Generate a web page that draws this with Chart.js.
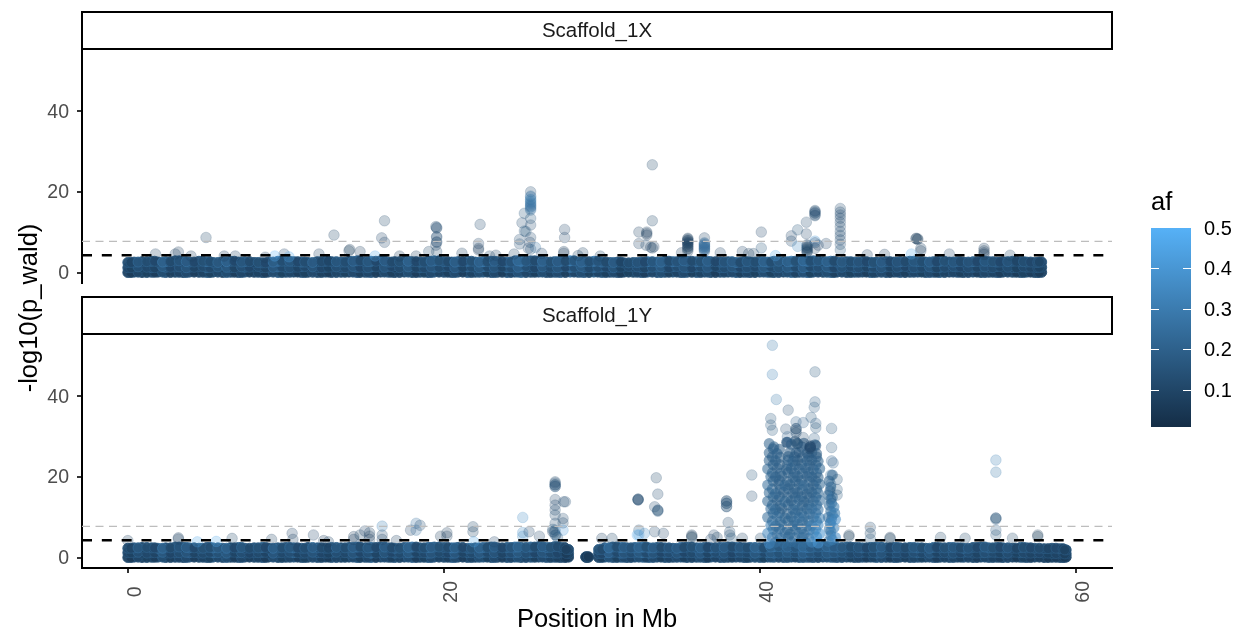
<!DOCTYPE html>
<html>
<head>
<meta charset="utf-8">
<style>
html, body { margin: 0; padding: 0; background: #fff; overflow: hidden; }
canvas { position: absolute; left: 0; top: 0; }
</style>
<script src="https://cdn.jsdelivr.net/npm/chart.js@4/dist/chart.umd.min.js"></script>
</head>
<body>
<canvas id="panelX" width="1244" height="630"></canvas>
<canvas id="panelY" width="1244" height="630"></canvas>
<canvas id="afBar" width="1244" height="630"></canvas>
<script>
const facets = ["Scaffold_1X", "Scaffold_1Y"];
const xLimits = [-2.9, 62.3];
const yLimits = [-2.6, 55.5];
const xTicks = [0, 20, 40, 60];
const xTickLabels = ["0 ", "20", "40", "60"];
const yTicks = [0, 20, 40];
const afTicks = [0.1, 0.2, 0.3, 0.4, 0.5];
const thresholds = [7.75, 4.3];

// floor of the dense band, shared by both panels
const bandFloor = [0,.1,0,.05,.1,0,.05,0,.1,.05,0,.1,0,.05,0,.1,.05,0,.1,0,.05,.1,0,.05,0,.1,0,.05,.1,0,.05,0,.1,.05,0,.1,0,.05,0,.1,.05,0,.1,0,.05,.1,0,.05,0,.1,0,.05,.1,0,.05,0,.1,.05,0,.1,0,.05,0,.1,.05,0,.1,0,.05,.1,0,.05,0,.1,0,.05,.1,0,.05,0,.1,.05,0,.1,0,.05,0,.1,.05,0,.1,0,.05,.1,0,.05,0,.1,0,.05,.1,0,.05,0,.1,.05,0,.1,0,.05,0,.1,.05,0,.1,0,.05,0,.1,0,.05,0,.1];

// dense band, chromosome X, one column per x
const band1X = [0,.4,.9,1.5,1.9,2.4,3,3.5,3.9,4.5,5,5.4,6,6.5,7,7.4,8,8.5,8.9,9.5,10,10.5,11,11.4,12,12.5,12.9,13.5,14,14.5,15,15.4,16,16.5,16.9,17.5,18,18.5,19,19.4,20,20.5,20.9,21.5,22,22.5,23,23.4,24,24.5,24.9,25.5,26,26.5,27,27.4,28,28.5,28.9,29.5,30,30.5,31,31.4,32,32.5,32.9,33.5,34,34.5,35,35.4,36,36.5,36.9,37.5,38,38.5,39,39.4,40,40.5,40.9,41.5,42,42.5,43,43.4,44,44.5,44.9,45.5,46,46.5,47,47.4,48,48.5,48.9,49.5,50,50.5,51,51.4,52,52.5,52.9,53.5,54,54.5,55,55.4,56,56.5,56.9,57.4,57.85];
const band1XB = [.2,.65,1.2,1.7,2.2,2.7,3.25,3.7,4.2,4.75,5.2,5.7,6.25,6.75,7.2,7.7,8.25,8.7,9.2,9.75,10.25,10.75,11.2,11.7,12.25,12.7,13.2,13.75,14.25,14.7,15.2,15.7,16.25,16.7,17.2,17.75,18.25,18.75,19.2,19.7,20.25,20.7,21.2,21.75,22.25,22.75,23.2,23.7,24.25,24.7,25.2,25.75,26.25,26.75,27.2,27.7,28.25,28.7,29.2,29.75,30.25,30.75,31.2,31.7,32.25,32.7,33.2,33.75,34.25,34.75,35.2,35.7,36.25,36.7,37.2,37.75,38.25,38.75,39.2,39.7,40.25,40.7,41.2,41.75,42.25,42.75,43.2,43.7,44.25,44.7,45.2,45.75,46.25,46.75,47.2,47.7,48.25,48.7,49.2,49.75,50.25,50.75,51.2,51.7,52.25,52.7,53.2,53.75,54.25,54.75,55.2,55.7,56.25,56.7,57.15,57.6,57.7];
const band1Top = [2.5,2.6,2.7,2.8,2.6,2.7,2.9,2.7,2.6,2.8,2.7,2.5,2.7,2.8,2.6,2.7,2.5,2.4,2.6,2.8,2.8,2.7,2.6,2.5,2.7,2.8,2.7,2.6,2.8,2.9,2.7,2.8,2.9,2.6,2.7,2.8,2.7,2.6,2.8,2.9,2.7,2.6,2.7,2.8,2.6,2.7,2.8,2.7,2.6,2.9,2.8,2.9,2.8,2.6,2.7,2.8,2.9,2.6,2.7,2.8,2.6,2.5,2.6,2.4,2.5,2.6,2.7,2.6,2.8,2.7,2.9,2.8,2.7,2.8,2.7,2.6,2.7,2.5,2.7,2.6,2.7,2.6,2.8,2.7,2.8,2.9,2.8,2.9,2.7,2.8,2.6,2.7,2.6,2.7,2.5,2.6,2.7,2.6,2.7,2.8,2.7,2.6,2.7,2.8,2.6,2.7,2.6,2.7,2.8,2.7,2.6,2.7,2.8,2.7,2.6,2.5,2.6];
const band1Mid = [1.2,1.4,1.3,1.2,1.5,1.3,1.4,1.2,1.3,1.5,1.2,1.4,1.3,1.2,1.4,1.3,1.5,1.2,1.3,1.4,1.2,1.3,1.5,1.4,1.2,1.3,1.4,1.2,1.5,1.3,1.2,1.4,1.3,1.5,1.2,1.4,1.3,1.2,1.4,1.3,1.5,1.2,1.3,1.4,1.2,1.5,1.3,1.4,1.2,1.3,1.5,1.2,1.4,1.3,1.2,1.4,1.3,1.5,1.2,1.3,1.4,1.2,1.3,1.5,1.4,1.2,1.3,1.4,1.2,1.5,1.3,1.2,1.4,1.3,1.5,1.2,1.4,1.3,1.2,1.4,1.3,1.5,1.2,1.3,1.4,1.2,1.5,1.3,1.4,1.2,1.3,1.5,1.2,1.4,1.3,1.2,1.4,1.3,1.5,1.2,1.3,1.4,1.2,1.3,1.5,1.4,1.2,1.3,1.4,1.2,1.5,1.3,1.2,1.4,1.3,1.2,1.3];
const band1Af = [.12,.14,.1,.16,.12,.18,.13,.1,.15,.12,.2,.13,.1,.14,.12,.17,.1,.13,.15,.22,.14,.12,.18,.1,.13,.16,.12,.14,.1,.18,.13,.2,.12,.15,.1,.14,.12,.17,.13,.2,.16,.12,.15,.22,.14,.24,.16,.12,.2,.15,.26,.14,.18,.12,.16,.22,.28,.14,.18,.25,.2,.14,.12,.1,.13,.16,.22,.18,.14,.2,.13,.17,.2,.14,.12,.16,.13,.2,.15,.12,.17,.22,.14,.12,.26,.15,.24,.18,.13,.2,.15,.12,.17,.14,.2,.12,.15,.1,.18,.13,.16,.12,.14,.2,.12,.15,.1,.17,.13,.12,.16,.1,.14,.12,.13,.1,.11];
const band1AfB = [.1,.16,.13,.11,.2,.12,.15,.18,.11,.14,.13,.17,.2,.11,.16,.12,.14,.11,.19,.13,.16,.11,.13,.18,.12,.1,.16,.13,.18,.12,.16,.11,.18,.12,.14,.2,.11,.13,.18,.14,.12,.19,.11,.14,.2,.13,.18,.11,.15,.22,.16,.12,.2,.14,.18,.12,.16,.2,.13,.15,.12,.18,.1,.13,.15,.11,.16,.2,.12,.15,.18,.12,.14,.19,.11,.15,.18,.12,.16,.13,.2,.13,.17,.2,.14,.22,.13,.16,.2,.12,.17,.13,.15,.11,.14,.18,.11,.15,.12,.16,.13,.18,.11,.14,.16,.12,.15,.11,.16,.14,.11,.15,.1,.13,.11,.12,.1];

// dense band, chromosome Y, split by the gap near 28 Mb
const band2X = [0,.4,.9,1.5,1.9,2.4,3,3.5,3.9,4.5,5,5.4,6,6.5,7,7.4,8,8.5,8.9,9.5,10,10.5,11,11.4,12,12.5,12.9,13.5,14,14.5,15,15.4,16,16.5,16.9,17.5,18,18.5,19,19.4,20,20.5,20.9,21.5,22,22.5,23,23.4,24,24.5,24.9,25.5,26,26.5,27,27.4,27.9,29,29.8,30.2,30.7,31.2,31.6,32.1,32.6,33,33.5,34,34.5,35,35.4,36,36.5,36.9,37.5,38,38.5,39,39.4,40,40.5,40.9,41.5,42,42.5,43,43.4,44,44.5,44.9,45.5,46,46.5,47,47.4,48,48.5,48.9,49.5,50,50.5,51,51.4,52,52.5,52.9,53.5,54,54.5,55,55.4,56,56.5,56.9,57.4,58,58.5,59,59.4];
const band2XB = [.2,.65,1.2,1.7,2.2,2.7,3.25,3.7,4.2,4.75,5.2,5.7,6.25,6.75,7.2,7.7,8.25,8.7,9.2,9.75,10.25,10.75,11.2,11.7,12.25,12.7,13.2,13.75,14.25,14.7,15.2,15.7,16.25,16.7,17.2,17.75,18.25,18.75,19.2,19.7,20.25,20.7,21.2,21.75,22.25,22.75,23.2,23.7,24.25,24.7,25.2,25.75,26.25,26.75,27.2,27.65,27.75,29.15,30,30.45,30.95,31.4,31.85,32.35,32.8,33.25,33.75,34.25,34.75,35.2,35.7,36.25,36.7,37.2,37.75,38.25,38.75,39.2,39.7,40.25,40.7,41.2,41.75,42.25,42.75,43.2,43.7,44.25,44.7,45.2,45.75,46.25,46.75,47.2,47.7,48.25,48.7,49.2,49.75,50.25,50.75,51.2,51.7,52.25,52.7,53.2,53.75,54.25,54.75,55.2,55.7,56.25,56.7,57.15,57.7,58.25,58.75,59.2,59.3];
const band2Top = [2.3,2.4,2.5,2.4,2.3,2.4,2.6,2.5,2.4,2.3,2.5,2.4,2.3,2.4,2.5,2.3,2.4,2.5,2.3,2.4,2.5,2.4,2.3,2.5,2.4,2.3,2.5,2.4,2.5,2.6,2.4,2.5,2.6,2.4,2.3,2.5,2.6,2.4,2.5,2.6,2.5,2.4,2.5,2.3,2.4,2.5,2.6,2.4,2.5,2.6,2.5,2.6,2.7,2.5,2.7,2.5,2,.2,2,2.4,2.6,2.5,2.4,2.5,2.6,2.4,2.5,2.4,2.3,2.5,2.6,2.4,2.5,2.4,2.5,2.6,2.5,2.4,2.5,2.4,2.6,2.7,2.6,2.5,2.6,2.5,2.6,2.7,2.6,2.5,2.6,2.5,2.4,2.5,2.6,2.4,2.5,2.4,2.5,2.4,2.3,2.5,2.4,2.5,2.4,2.3,2.5,2.6,2.4,2.5,2.4,2.3,2.5,2.4,2.3,2.2,2.3,2.2,1.9];
const band2Mid = [1.2,1.3,1.1,1.2,1.3,1.1,1.2,1.3,1.2,1.1,1.3,1.2,1.1,1.3,1.2,1.1,1.2,1.3,1.1,1.2,1.3,1.2,1.1,1.3,1.2,1.1,1.3,1.2,1.1,1.3,1.2,1.1,1.2,1.3,1.1,1.2,1.3,1.2,1.1,1.3,1.2,1.1,1.3,1.2,1.1,1.3,1.2,1.1,1.2,1.3,1.1,1.2,1.3,1.2,1.1,1.3,1,.1,1,1.2,1.3,1.1,1.2,1.3,1.2,1.1,1.3,1.2,1.1,1.3,1.2,1.1,1.2,1.3,1.1,1.2,1.3,1.2,1.1,1.3,1.2,1.1,1.3,1.2,1.1,1.3,1.2,1.1,1.2,1.3,1.1,1.2,1.3,1.2,1.1,1.3,1.2,1.1,1.3,1.2,1.1,1.3,1.2,1.1,1.2,1.3,1.1,1.2,1.3,1.2,1.1,1.3,1.2,1.1,1.2,1.1,1,1.1,.9];
const band2Af = [.12,.15,.1,.13,.17,.12,.14,.1,.18,.13,.12,.2,.14,.1,.16,.12,.13,.18,.1,.14,.12,.2,.13,.11,.15,.12,.17,.1,.14,.2,.13,.24,.14,.12,.18,.15,.22,.13,.2,.16,.14,.22,.13,.16,.12,.2,.14,.1,.17,.22,.13,.2,.15,.18,.14,.12,.1,.07,.14,.2,.16,.22,.13,.18,.24,.2,.14,.17,.12,.2,.14,.16,.13,.2,.15,.12,.18,.14,.16,.2,.2,.22,.18,.16,.2,.22,.18,.16,.2,.18,.16,.12,.18,.14,.2,.13,.16,.12,.14,.18,.12,.16,.13,.15,.11,.17,.13,.14,.16,.12,.14,.11,.15,.12,.13,.11,.1,.12,.1];
const band2AfB = [.1,.16,.13,.11,.2,.12,.15,.18,.11,.14,.13,.17,.2,.11,.16,.12,.14,.11,.19,.13,.16,.11,.13,.18,.12,.1,.16,.13,.18,.12,.16,.11,.18,.12,.14,.2,.11,.13,.18,.14,.12,.19,.11,.14,.2,.13,.18,.11,.15,.2,.16,.12,.18,.14,.12,.1,.08,.06,.12,.22,.13,.18,.15,.2,.14,.18,.12,.15,.18,.12,.14,.19,.11,.15,.18,.12,.16,.13,.2,.13,.2,.17,.2,.16,.22,.18,.16,.2,.18,.17,.13,.15,.11,.14,.18,.11,.15,.12,.16,.13,.18,.11,.14,.16,.12,.15,.11,.16,.14,.11,.15,.1,.13,.11,.12,.1,.11,.1,.09];

// separate points above the band, chromosome X
const outlier1X = [1.75,3.2,3,4,4.95,6.1,6.8,8.7,9.3,9.9,10.2,12.1,13.05,14,14.05,14.7,15.65,16.07,16.25,16.25,17.2,18.25,19.5,19.55,19.55,19.55,19.5,19.55,19.05,21.15,22.3,22.2,22.2,22.2,22.9,23.3,24.45,24.8,24.8,24.95,25.1,25.1,25.2,25.5,25.5,25.5,25.5,25.5,25.5,25.5,25.5,25.5,25.5,25.45,25.5,25.35,25.8,26.2,27.65,27.65,27.6,27.6,28.8,28.5,29.9,33.2,33.2,32.35,32.35,32.85,32.85,32.85,32.8,33.1,33.3,33.2,35.45,35.45,35.45,35.45,35.45,35.45,35.45,35.05,36.5,36.5,36.5,36.5,36.5,36.5,36.5,37.5,38.9,39.3,39.6,40.1,40.1,41,42,42,42.4,42.95,42.95,43.5,43.5,43.5,43.5,43,43,43,43,42.4,43.5,43.5,43.7,44.2,45.1,45.1,45.1,45.1,45.1,45.1,45.1,45.1,45.1,45.1,45.1,46.8,47.9,49.9,49.9,50,50.2,50.2,49.6,52,54.2,54.2,54.2,54.2,55.85];
const outlier1Y = [4.6,5.1,4.6,4.1,8.7,4.1,4.1,3.8,4.1,4.6,3.9,4.6,9.3,5.4,5.7,5.2,4.1,8.6,7.5,12.85,4.1,4.1,11.4,11,8.9,7.6,6.8,5.2,5.2,4.8,11.95,7.2,6,5.6,4.1,4.3,4.6,8.2,7.1,12.35,14.7,10.3,10.2,20.05,18.8,18,17.3,16.7,16.2,15.5,13.45,11.8,8.7,7.5,5.8,6,6.25,4.75,10.7,8.7,5.2,4.8,4.9,4.2,4.1,26.75,12.85,10.05,7.2,10.05,9.7,9.3,6.8,6.3,6.4,6.1,8.5,8,7.6,7.2,6.6,6,5.3,4.9,8.6,7.2,6.8,6.4,6,5.6,5.2,4.9,5.2,4.7,4.7,10.05,6.1,4.2,9.1,7.8,10.6,12.5,9.6,15.4,14.9,14.3,7.8,6.9,6.3,5.8,5.2,6.5,6,7.4,6.8,7.2,15.9,15,14.3,13.5,12.5,11.4,10.2,9.2,8.1,7,5.6,4.4,4.5,8.4,8.5,8.2,6,5.4,4.6,4.6,6,5.4,4.9,4.5,4.3];
const outlier1Af = [.03,.02,.03,.03,.04,.02,.03,.02,.45,.05,.4,.03,.04,.01,.01,.02,.4,.05,.05,.04,.02,.02,.06,.06,.06,.05,.05,.04,.04,.03,.06,.05,.02,.02,.04,.03,.04,.08,.08,.08,.1,.1,.1,.06,.2,.22,.24,.2,.2,.18,.1,.08,.06,.05,.1,.05,.2,.05,.05,.05,.02,.02,.03,.04,.04,.04,.04,.03,.05,.02,.02,.02,.04,.02,.02,.03,.01,.01,.01,.01,.01,.01,.01,.03,.03,.12,.14,.16,.14,.14,.12,.05,.05,.02,.04,.05,.1,.4,.05,.06,.1,.06,.05,.06,.06,.06,.35,.05,.05,.03,.03,.3,.03,.08,.05,.05,.06,.06,.06,.06,.06,.06,.06,.06,.06,.06,.1,.03,.03,.02,.01,.01,.03,.03,.4,.05,.02,.02,.02,.02,.04];

// points that pile up on the same position, chromosome X
const stack1X = [35.45,35.45,35.45,35.45,35.45,35.45,36.5,36.5,36.5,36.5,36.5,25.5,25.5,25.5,25.5,25.5,25.5,43,43,43,43,43.5,43.5,43.5,19.55,19.55,19.55,50];
const stack1Y = [8.3,7.9,7.4,7,6.4,5.8,7.4,6.9,6.5,6.1,5.7,19,18.2,17.6,17,16.4,15.8,6.7,6.1,5.5,5,15.2,14.7,14.1,11.2,8.8,7.5,8.4];
const stack1Af = [.03,.03,.03,.03,.03,.03,.2,.2,.2,.2,.2,.2,.22,.22,.2,.2,.2,.04,.04,.04,.04,.06,.06,.06,.08,.08,.08,.02];

// separate points above the band, chromosome Y
const outlier2X = [0,3.2,3.2,4.4,5.6,6.6,9.1,10.4,10.45,11.75,12.4,12.7,14.3,14.3,14.7,15,15.3,15.3,15.3,16.1,16.1,16.1,17,17.9,18.25,18.25,18.5,19.8,20.2,20.2,21.85,21.85,21.9,23.2,25,25,25,25.4,26.05,27.05,27.05,27.05,27.05,27.05,27.05,27.05,27.05,27.05,27.05,27.6,27.7,27.55,27.55,27.55,26.9,30,30.65,32.3,32.3,33.45,33.55,33.35,33.55,33.55,32.35,32.35,32.25,33.35,33.9,32.7,35.7,35.7,35.7,37.1,37.3,36.9,37.9,37.9,37.9,38,38.1,38.1,38.2,39.5,39.5,38.9,40.05,45.65,45.65,47,47,47,48.25,48.25,54.95,54.95,54.95,54.95,54.95,54.95,57.6,57.6,56,53,51.45];
const outlier2Y = [4.2,4.9,4.6,3.9,4,4.75,4.5,6,4.5,5.6,4.2,3.9,5.2,4.5,5.6,6.6,6.15,5.3,4.5,7.8,5.6,4.5,4.2,6.8,8.5,6.8,8,5.3,6.15,5.3,7.65,6.4,3.9,3.9,9.95,6.2,5.3,6.4,5.3,18.8,18,17.6,14.4,13,11.8,10.55,8.5,6.8,5.6,13.85,13.85,9.7,8.6,6.8,6.4,4.75,4.75,14.5,14.3,19.8,15.75,12.6,11.8,11.5,6.8,5.6,5.6,6.4,6,6,5.6,5.3,5,5.6,5,4.5,14.1,13.45,12.6,8.7,6.4,5.6,4.8,20.5,15.25,4.8,4.8,5.6,5.2,7.5,6,4.6,5,4.7,24.2,21.2,9.8,9.5,6.8,5.6,5.6,5.2,4.8,4.8,5];
const outlier2Af = [.03,.02,.03,.4,.4,.04,.03,.05,.03,.05,.02,.03,.02,.02,.04,.05,.03,.02,.02,.25,.08,.05,.03,.05,.2,.2,.08,.02,.02,.02,.04,.04,.4,.05,.3,.3,.3,.05,.05,.04,.1,.12,.05,.05,.06,.06,.08,.15,.12,.06,.08,.06,.06,.35,.02,.03,.04,.06,.06,.04,.06,.06,.1,.1,.1,.35,.4,.06,.05,.3,.01,.01,.01,.05,.04,.05,.06,.1,.1,.06,.08,.08,.1,.1,.08,.03,.04,.01,.01,.06,.04,.1,.01,.01,.25,.22,.1,.1,.12,.1,.01,.01,.04,.04,.04];

// points that pile up on the same position, chromosome Y
const stack2X = [27.05,27.05,27.05,32.3,32.3,37.9,37.9,37.9,33.55,26.9,27,27.1,27.2,54.95,42.3,42.3,42.3,43.2,43.2,43.2];
const stack2Y = [18.5,18.1,17.7,14.5,14.3,14,13.5,12.7,11.7,7,6.3,5.6,5,9.8,32,31.5,31,27.8,27.4,27];
const stack2Af = [.08,.08,.08,.06,.06,.08,.08,.08,.06,.1,.1,.1,.1,.08,.06,.06,.06,.05,.05,.05];

// tower of strong signal at 40-45 Mb on chromosome Y, rows bottom to top
const towerX = [
  40.6,41,41.5,42,42.4,42.9,43.3,43.7,
  40.5,41.1,41.6,41.9,42.5,42.8,43.4,43.8,
  40.7,41,41.4,42.1,42.4,43,43.3,43.7,
  40.5,41.1,41.6,42,42.5,42.8,43.4,43.8,
  40.7,41,41.4,42.1,42.4,43,43.3,43.7,
  40.5,41.1,41.6,42,42.5,42.8,43.4,43.8,
  40.6,41,41.5,42.1,42.4,43,43.3,43.7,
  40.5,41.2,41.6,41.9,42.5,42.8,43.4,43.8,
  40.7,41,41.4,42.1,42.4,43,43.3,43.7,
  40.5,41.1,41.7,42,42.5,42.9,43.4,43.8,
  40.6,41,41.8,42.1,42.4,43,43.3,43.7,
  40.6,41.1,41.9,42.3,42.5,43,43.3,43.6,
  40.6,40.9,41.7,42,42.4,42.8,43.2,43.5,
  44.35,44.6,44.8,44.4,44.7,44.35,44.6,44.8,44.4,44.7,44.35,44.6,44.5,44.75,44.4,44.6,44.5
];
const towerY = [
  3.5,3.8,3.6,3.9,3.5,3.7,3.8,3.6,
  6,5.7,6.1,5.8,6,5.7,6.1,5.9,
  8,7.8,8.1,7.9,8.2,7.8,8,8.1,
  10,10.2,9.8,10.1,9.9,10.2,10,9.8,
  12.1,11.9,12.2,12,11.8,12.1,12.2,11.9,
  14,14.2,13.9,14.1,14.3,13.9,14,14.2,
  16.1,15.9,16.2,16,16.1,15.8,16.2,16,
  18,18.2,17.9,18.1,18.2,17.9,18,18.2,
  20.1,20,20.2,19.9,20.1,20.2,20,19.9,
  22,22.2,21.9,22.1,22,22.2,21.9,22.1,
  24.1,24,24.2,23.9,24.1,24,24.2,23.9,
  26,25.8,26.1,26,26.2,25.9,26.1,25.8,
  28.3,27.5,28.6,28.1,28.3,28.4,27.5,28,
  4,4.4,5,7,7.4,10,10.5,9.5,13,12.6,15.5,15,17.5,11,19,20.5,8.5
];
const towerAf = [
  .36,.26,.24,.24,.24,.24,.34,.4,
  .34,.26,.24,.22,.24,.24,.32,.38,
  .3,.24,.24,.22,.24,.24,.3,.34,
  .24,.24,.22,.22,.24,.24,.26,.3,
  .24,.22,.2,.22,.22,.22,.24,.26,
  .22,.2,.22,.2,.22,.2,.22,.24,
  .22,.22,.2,.2,.2,.2,.2,.22,
  .24,.2,.22,.2,.2,.22,.2,.22,
  .22,.2,.2,.2,.2,.2,.2,.2,
  .22,.2,.2,.2,.2,.2,.2,.22,
  .2,.2,.2,.2,.18,.2,.18,.2,
  .2,.2,.18,.18,.16,.18,.16,.18,
  .2,.2,.16,.18,.14,.16,.14,.18,
  .28,.3,.36,.28,.32,.26,.28,.36,.24,.3,.22,.26,.22,.3,.2,.2,.34
];

// second layer between the tower rows
const towerFillX = [
  40.8,41.3,41.8,42.2,42.7,43.1,43.6,
  40.85,41.25,41.75,42.25,42.65,43.15,43.55,
  40.8,41.3,41.8,42.2,42.7,43.1,43.6,
  40.85,41.25,41.75,42.25,42.65,43.15,43.55,
  40.8,41.3,41.8,42.2,42.7,43.1,43.6,
  40.85,41.25,41.75,42.25,42.65,43.15,43.55,
  40.8,41.3,41.8,42.2,42.7,43.1,43.6,
  40.85,41.25,41.75,42.25,42.65,43.15,43.55,
  40.8,41.3,41.8,42.2,42.7,43.1,43.6,
  40.85,41.25,41.75,42.25,42.65,43.15,43.55,
  40.8,41.3,41.8,42.2,42.7,43.1,43.6,
  40.85,41.25,41.75,42.25,42.65,43.15,43.55,
  44.5,44.5,44.45,44.55,44.5,44.55,44.5,44.45
];
const towerFillY = [
  5,4.8,5.1,4.9,5,4.8,5.1,
  7,7.1,6.9,7,7.1,6.9,7,
  9,8.9,9.1,9,8.9,9.1,9,
  11,11.1,10.9,11,11.1,10.9,11,
  13,12.9,13.1,13,12.9,13.1,13,
  15,15.1,14.9,15,15.1,14.9,15,
  17,16.9,17.1,17,16.9,17.1,17,
  19,19.1,18.9,19,19.1,18.9,19,
  21,20.9,21.1,21,20.9,21.1,21,
  23,23.1,22.9,23,23.1,22.9,23,
  25,24.9,25.1,25,24.9,25.1,25,
  27,26.9,28.6,28.9,27.5,27,27.8,
  5.5,6.5,8.5,9.5,11.5,13.5,14.5,16.5
];
const towerFillAf = [
  .24,.24,.22,.24,.22,.26,.36,
  .22,.22,.2,.22,.22,.24,.3,
  .22,.2,.2,.22,.2,.22,.26,
  .2,.2,.18,.2,.2,.2,.24,
  .2,.18,.18,.2,.18,.2,.22,
  .2,.18,.18,.18,.18,.18,.2,
  .2,.18,.18,.18,.18,.18,.2,
  .18,.18,.18,.18,.18,.18,.18,
  .18,.18,.18,.18,.18,.18,.18,
  .18,.18,.18,.18,.18,.18,.18,
  .18,.18,.18,.18,.16,.16,.18,
  .18,.18,.14,.12,.16,.12,.16,
  .3,.28,.26,.26,.24,.22,.2,.18
];

// sparse tops of the tower
const towerTopX = [40.8,40.8,41.05,41.8,43.5,43.5,43.45,40.7,40.7,40.8,41.65,42.3,42.3,42.75,43.25,43.55,43.55,43.45,42.75,41.75,42.35,43.2,44.55,44.55,44.55,44.65,44.5,44.5,44.9,44.9,44.9];
const towerTopY = [52.7,45.45,39.25,36.6,46.1,38.65,37.3,34.5,32.9,31.6,31.9,33.7,32,33.5,34.8,33.3,32.2,29.6,29.8,30,28.3,27.5,32.05,27.3,24,23.5,20.5,18.2,19.4,16.9,15.5];
const towerTopAf = [.22,.25,.22,.08,.1,.12,.12,.1,.1,.1,.08,.14,.08,.14,.1,.12,.1,.12,.06,.14,.1,.05,.1,.1,.14,.14,.16,.18,.1,.1,.1];

const afColor = (af, alpha) => {
  const t = Math.min(1, Math.max(0, (af ?? 0.15) / 0.5));
  const r = Math.round(19 + (86 - 19) * t);
  const g = Math.round(43 + (177 - 43) * t);
  const b = Math.round(67 + (247 - 67) * t);
  return `rgba(${r},${g},${b},${alpha})`;
};

// tint lifts the very low af points a little towards the blue seen in the picture
const pointSet = (xs, ys, afs, alpha, radius = 5.3, rim = 0.8, tint = 0.06) => ({
  type: "scatter",
  data: xs.map((x, i) => ({ x, y: ys[i] })),
  pointRadius: radius,
  pointHoverRadius: radius,
  borderWidth: rim,
  backgroundColor: afs.map(a => afColor(a + tint, alpha)),
  borderColor: afs.map(a => afColor(a + tint, alpha)),
});

// band rows get a lighter rim so the overlapping circles stay visible
const bandRow = (xs, ys, afs, shade) => ({
  type: "scatter",
  data: xs.map((x, i) => ({ x, y: ys[i] })),
  pointRadius: 5,
  pointHoverRadius: 5,
  borderWidth: 1,
  backgroundColor: afs.map(a => afColor(a * shade, 0.95)),
  borderColor: afs.map(a => afColor(a * shade + 0.06, 0.9)),
});

const thresholdLines = () => [
  {
    type: "line",
    data: xLimits.map(x => ({ x, y: thresholds[1] })),
    borderColor: "#000",
    borderWidth: 2.5,
    borderDash: [10, 9.83],
    pointRadius: 0,
  },
  {
    type: "line",
    data: xLimits.map(x => ({ x, y: thresholds[0] })),
    borderColor: "#bdbdbd",
    borderWidth: 1.2,
    borderDash: [8, 5.5],
    pointRadius: 0,
  },
];

const bandRows = (xA, xB, mid, top, afA, afB) => [
  bandRow(xB, top, afB, 1),
  bandRow(xA, top, afA, 1),
  bandRow(xB, mid, afB, 0.85),
  bandRow(xA, mid, afA, 0.85),
  bandRow(xB, bandFloor, afB, 0.65),
  bandRow(xA, bandFloor, afA, 0.65),
];

const stripBox = {
  id: "stripBox",
  beforeDraw(chart) {
    const { ctx, chartArea: a } = chart;
    ctx.save();
    ctx.strokeStyle = "#000";
    ctx.lineWidth = 2;
    ctx.strokeRect(a.left, a.top - 37, a.right - a.left, 37);
    ctx.restore();
  },
};

const yAxisTitle = {
  id: "yAxisTitle",
  afterDraw(chart) {
    const { ctx } = chart;
    ctx.save();
    ctx.translate(30, 308);
    ctx.rotate(-Math.PI / 2);
    ctx.font = '25.5px "Liberation Sans"';
    ctx.fillStyle = "#000";
    ctx.textAlign = "center";
    ctx.textBaseline = "middle";
    ctx.fillText("-log10(p_wald)", 0, 0);
    ctx.restore();
  },
};

const facetChart = (id, facet, top, datasets, bottomHeight, showX, plugins) =>
  new Chart(id, {
    data: { datasets },
    plugins,
    options: {
      responsive: false,
      animation: false,
      layout: { padding: { top, right: 132, left: 0, bottom: 0 } },
      plugins: {
        legend: { display: false },
        tooltip: { enabled: false },
        title: {
          display: true,
          text: facet,
          fullSize: false,
          color: "#1a1a1a",
          font: { family: "Liberation Sans", size: 20.5, weight: "normal", lineHeight: 1 },
          padding: { top: 9.5, bottom: 7 },
        },
      },
      scales: {
        x: {
          type: "linear",
          min: xLimits[0],
          max: xLimits[1],
          afterBuildTicks: s => { s.ticks = xTicks.map(value => ({ value })); },
          afterFit: s => { s.height = bottomHeight; },
          grid: { display: showX, drawOnChartArea: false, tickLength: 5, tickColor: "#333", lineWidth: 2 },
          border: { display: showX, color: "#000", width: 2 },
          ticks: {
            display: showX,
            autoSkip: false,
            minRotation: 90,
            maxRotation: 90,
            labelOffset: 8,
            padding: 8,
            color: "#4d4d4d",
            font: { family: "Liberation Sans", size: 19.5 },
            callback: v => xTickLabels[xTicks.indexOf(v)],
          },
          title: {
            display: showX,
            text: "Position in Mb",
            color: "#000",
            font: { family: "Liberation Sans", size: 25.5, lineHeight: 0.8 },
            padding: { top: 0, bottom: 0 },
          },
        },
        y: {
          type: "linear",
          min: yLimits[0],
          max: yLimits[1],
          afterBuildTicks: s => { s.ticks = yTicks.map(value => ({ value })); },
          afterFit: s => { s.width = 82; },
          grid: { drawOnChartArea: false, tickLength: 5, tickColor: "#333", lineWidth: 2 },
          border: { color: "#000", width: 2 },
          ticks: {
            padding: 8,
            labelOffset: 1,
            color: "#4d4d4d",
            font: { family: "Liberation Sans", size: 19.5 },
          },
        },
      },
    },
  });

facetChart("panelX", facets[0], 12, [
  ...thresholdLines(),
  pointSet(stack1X, stack1Y, stack1Af, 0.25),
  pointSet(outlier1X, outlier1Y, outlier1Af, 0.25),
  ...bandRows(band1X, band1XB, band1Mid, band1Top, band1Af, band1AfB),
], 347, false, [stripBox]);

facetChart("panelY", facets[1], 297, [
  ...thresholdLines(),
  pointSet(stack2X, stack2Y, stack2Af, 0.25),
  pointSet(towerTopX, towerTopY, towerTopAf, 0.25),
  pointSet(towerX, towerY, towerAf, 0.55, 5.5, 0, 0),
  pointSet(towerFillX, towerFillY, towerFillAf, 0.55, 5.5, 0, 0),
  pointSet(outlier2X, outlier2Y, outlier2Af, 0.25),
  ...bandRows(band2X, band2XB, band2Mid, band2Top, band2Af, band2AfB),
], 62, true, [stripBox, yAxisTitle]);

const afTickMarks = {
  id: "afTickMarks",
  afterDatasetsDraw(chart) {
    const { ctx, chartArea: a, scales } = chart;
    ctx.save();
    ctx.strokeStyle = "#fff";
    ctx.lineWidth = 1;
    afTicks.slice(0, 4).forEach(v => {
      const p = Math.round(scales.y.getPixelForValue(v)) + 0.5;
      ctx.beginPath();
      ctx.moveTo(a.left, p);
      ctx.lineTo(a.left + 8, p);
      ctx.moveTo(a.right - 8, p);
      ctx.lineTo(a.right, p);
      ctx.stroke();
    });
    ctx.restore();
  },
};

new Chart("afBar", {
  type: "bar",
  data: {
    labels: ["af"],
    datasets: [{
      data: [[0.0086, 0.5]],
      barPercentage: 1,
      categoryPercentage: 1,
      backgroundColor: ctx => {
        const a = ctx.chart.chartArea;
        if (!a) return afColor(0.25, 1);
        const g = ctx.chart.ctx.createLinearGradient(0, a.bottom, 0, a.top);
        g.addColorStop(0, afColor(0.0086, 1));
        g.addColorStop(1, afColor(0.5, 1));
        return g;
      },
    }],
  },
  plugins: [afTickMarks],
  options: {
    responsive: false,
    animation: false,
    layout: { padding: { top: 188, left: 1151, right: 0, bottom: 203 } },
    plugins: {
      legend: { display: false },
      tooltip: { enabled: false },
      title: {
        display: true,
        text: "af",
        align: "start",
        fullSize: false,
        color: "#000",
        font: { family: "Liberation Sans", size: 25.5, weight: "normal", lineHeight: 1.2 },
        padding: { top: 0, bottom: 9.4 },
      },
    },
    scales: {
      x: { display: false },
      y: {
        position: "right",
        min: 0.0086,
        max: 0.5,
        afterBuildTicks: s => { s.ticks = afTicks.map(value => ({ value })); },
        afterFit: s => { s.width = 53; },
        grid: { display: false },
        border: { display: false },
        ticks: {
          padding: 5,
          labelOffset: 1,
          color: "#000",
          font: { family: "Liberation Sans", size: 20 },
          callback: v => v.toFixed(1),
        },
      },
    },
  },
});
</script>
</body>
</html>
